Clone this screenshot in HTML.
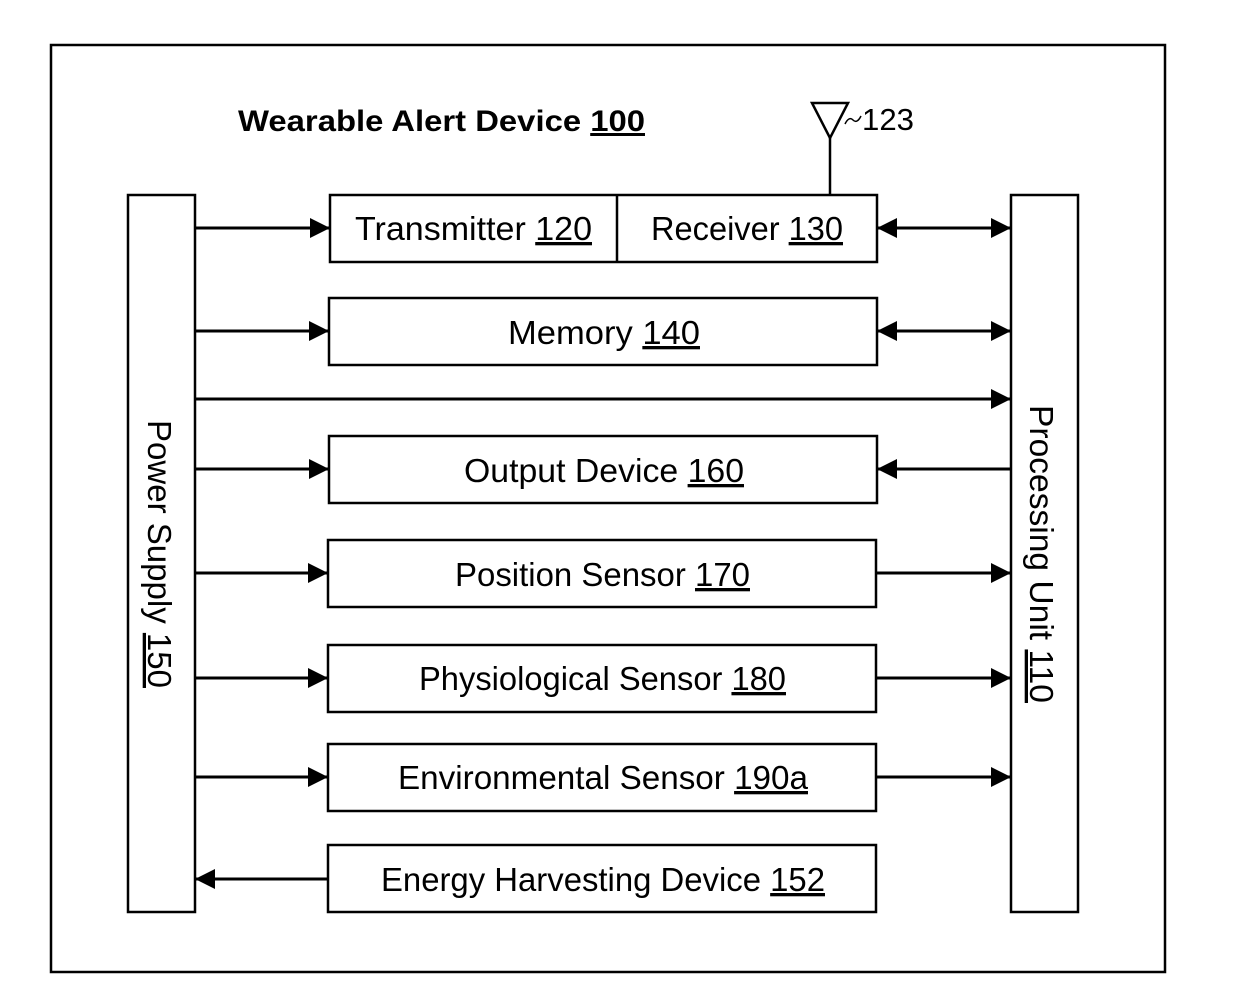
<!DOCTYPE html>
<html><head><meta charset="utf-8"><style>html,body{margin:0;padding:0;background:#fff}svg{display:block}</style></head>
<body>
<svg width="1240" height="1000" viewBox="0 0 1240 1000" xmlns="http://www.w3.org/2000/svg" font-family="Liberation Sans, sans-serif">
<defs>
<marker id="b" viewBox="0 0 10 10" refX="10" refY="5" markerWidth="20" markerHeight="20" orient="auto-start-reverse" markerUnits="userSpaceOnUse"><path d="M0,0 L10,5 L0,10 z" fill="#000"/></marker>
</defs>
<rect x="51" y="45" width="1114" height="927" fill="none" stroke="#000" stroke-width="2.5"/>
<text x="238" y="131" font-size="30" font-weight="bold" textLength="407" lengthAdjust="spacingAndGlyphs">Wearable Alert Device <tspan text-decoration="underline">100</tspan></text>
<path d="M812,103 L848,103 L830,138 Z" fill="none" stroke="#000" stroke-width="2.5"/>
<line x1="830" y1="138" x2="830" y2="195" stroke="#000" stroke-width="2.5"/>
<path d="M845,124 q4,-8 8,-4 t8,-4" fill="none" stroke="#000" stroke-width="1.5"/>
<text x="862" y="130" font-size="31" textLength="52" lengthAdjust="spacingAndGlyphs">123</text>
<g fill="none" stroke="#000" stroke-width="2.5">
<rect x="128" y="195" width="67" height="717"/>
<rect x="1011" y="195" width="67" height="717"/>
<rect x="330" y="195" width="547" height="67"/>
<line x1="617" y1="195" x2="617" y2="262"/>
<rect x="329" y="298" width="548" height="67"/>
<rect x="329" y="436" width="548" height="67"/>
<rect x="328" y="540" width="548" height="67"/>
<rect x="328" y="645" width="548" height="67"/>
<rect x="328" y="744" width="548" height="67"/>
<rect x="328" y="845" width="548" height="67"/>
</g>
<g stroke="#000" stroke-width="3" marker-end="url(#b)">
<line x1="195" y1="228" x2="330" y2="228"/>
<line x1="195" y1="331" x2="329" y2="331"/>
<line x1="195" y1="399" x2="1011" y2="399"/>
<line x1="195" y1="469" x2="329" y2="469"/>
<line x1="195" y1="573" x2="328" y2="573"/>
<line x1="195" y1="678" x2="328" y2="678"/>
<line x1="195" y1="777" x2="328" y2="777"/>
<line x1="328" y1="879" x2="195" y2="879"/>
<line x1="1011" y1="469" x2="877" y2="469"/>
<line x1="876" y1="573" x2="1011" y2="573"/>
<line x1="876" y1="678" x2="1011" y2="678"/>
<line x1="876" y1="777" x2="1011" y2="777"/>
<line x1="877" y1="228" x2="1011" y2="228" marker-start="url(#b)"/>
<line x1="877" y1="331" x2="1011" y2="331" marker-start="url(#b)"/>
</g>
<g font-size="33">
<text x="355" y="240" textLength="237" lengthAdjust="spacingAndGlyphs">Transmitter <tspan text-decoration="underline">120</tspan></text>
<text x="651" y="240" textLength="192" lengthAdjust="spacingAndGlyphs">Receiver <tspan text-decoration="underline">130</tspan></text>
<text x="508" y="344" textLength="192" lengthAdjust="spacingAndGlyphs">Memory <tspan text-decoration="underline">140</tspan></text>
<text x="464" y="482" textLength="280" lengthAdjust="spacingAndGlyphs">Output Device <tspan text-decoration="underline">160</tspan></text>
<text x="455" y="586" textLength="295" lengthAdjust="spacingAndGlyphs">Position Sensor <tspan text-decoration="underline">170</tspan></text>
<text x="419" y="690" textLength="367" lengthAdjust="spacingAndGlyphs">Physiological Sensor <tspan text-decoration="underline">180</tspan></text>
<text x="398" y="789" textLength="410" lengthAdjust="spacingAndGlyphs">Environmental Sensor <tspan text-decoration="underline">190a</tspan></text>
<text x="381" y="891" textLength="444" lengthAdjust="spacingAndGlyphs">Energy Harvesting Device <tspan text-decoration="underline">152</tspan></text>
<text transform="translate(148,420) rotate(90)" textLength="268" lengthAdjust="spacingAndGlyphs">Power Supply <tspan text-decoration="underline">150</tspan></text>
<text transform="translate(1030,405) rotate(90)" textLength="298" lengthAdjust="spacingAndGlyphs">Processing Unit <tspan text-decoration="underline">110</tspan></text>
</g>
</svg>
</body></html>
